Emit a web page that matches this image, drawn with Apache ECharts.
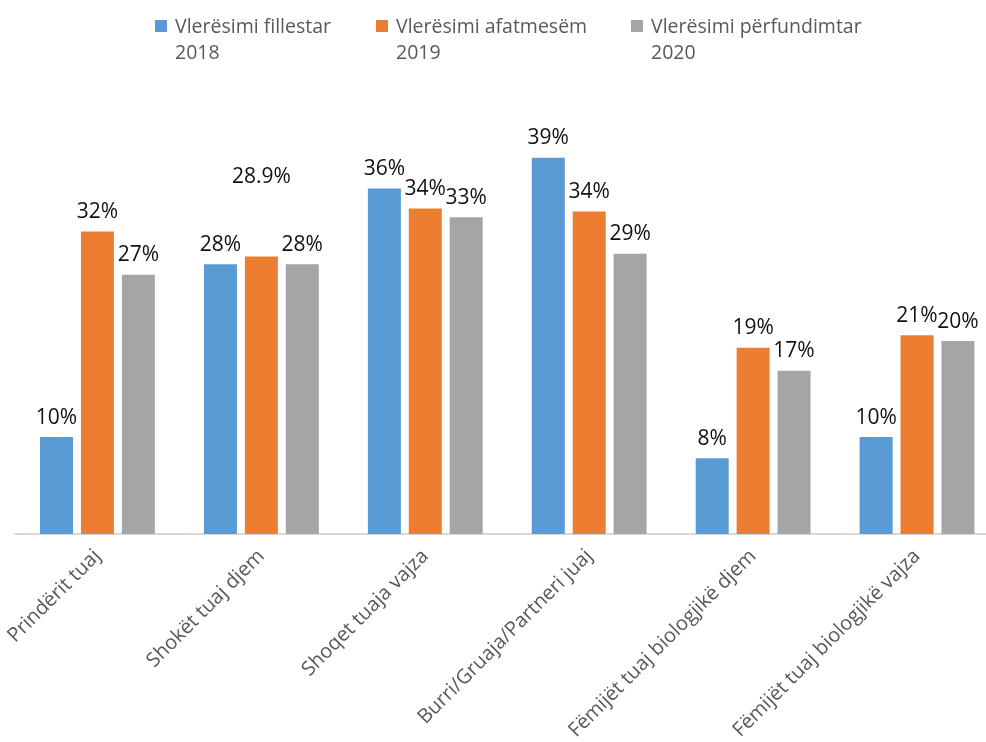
<!DOCTYPE html>
<html>
<head>
<meta charset="utf-8">
<script src="https://cdn.jsdelivr.net/npm/echarts@6/dist/echarts.min.js"></script>
<style>
html,body{margin:0;padding:0;background:#fff;}
#chart{width:986px;height:742px;}
</style>
</head>
<body>
<div id="chart"></div>
<script>
var categories = ['Prindërit tuaj', 'Shokët tuaj djem', 'Shoqet tuaja vajza', 'Burri/Gruaja/Partneri juaj', 'Fëmijët tuaj biologjikë djem', 'Fëmijët tuaj biologjikë vajza'];
var seriesNames = ['Vlerësimi fillestar\n2018', 'Vlerësimi afatmesëm\n2019', 'Vlerësimi përfundimtar\n2020'];
var values2018 = [10.1, 28.1, 36.0, 39.2, 7.9, 10.1];
var values2019 = [31.5, 28.9, 33.9, 33.6, 19.4, 20.7];
var values2020 = [27.0, 28.1, 33.0, 29.2, 17.0, 20.1];
var colors = ['#5B9BD5', '#ED7D31', '#A5A5A5'];

var chart = echarts.init(document.getElementById('chart'));

function makeData(vals, specialIndex) {
  return vals.map(function (v, i) {
    if (i === specialIndex) {
      return { value: v, label: { formatter: v.toFixed(1) + '%', offset: [0, -60] } };
    }
    return v;
  });
}

var allValues = [values2018, values2019, values2020];
var series = allValues.map(function (vals, si) {
  return {
    name: seriesNames[si],
    type: 'bar',
    barWidth: 33,
    barGap: '24%',
    itemStyle: { color: colors[si] },
    label: {
      show: true,
      position: 'top',
      distance: 9,
      fontFamily: 'Open Sans',
      fontSize: 21,
      color: '#111',
      formatter: function (p) { return Math.round(p.value) + '%'; }
    },
    data: makeData(vals, si === 1 ? 1 : -1)
  };
});

var iconPath = 'path://M0,0H12V12H0Z M14.99,39.99H15V40H14.99Z';
var legendLefts = [155, 376, 631];
var legends = seriesNames.map(function (n, i) {
  return {
    data: [n],
    left: legendLefts[i],
    top: 14,
    padding: 0,
    icon: iconPath,
    itemWidth: 15,
    itemHeight: 40,
    selectedMode: false,
    textStyle: { fontFamily: 'Open Sans', fontSize: 19.5, color: '#595959', lineHeight: 26 }
  };
});

chart.setOption({
  animation: false,
  color: colors,
  legend: legends,
  grid: { left: 15.5, width: 983.5, top: 150, bottom: 208, containLabel: false, outerBoundsMode: 'none' },
  xAxis: {
    type: 'category',
    data: categories,
    axisLine: { lineStyle: { color: '#D9D9D9', width: 2 } },
    axisTick: { show: false },
    axisLabel: {
      rotate: 45,
      interval: 0,
      margin: 19,
      fontFamily: 'Open Sans',
      fontSize: 20,
      color: '#595959'
    }
  },
  yAxis: {
    type: 'value',
    min: 0,
    max: 40,
    show: false,
    splitLine: { show: false }
  },
  series: series
});
</script>
</body>
</html>
